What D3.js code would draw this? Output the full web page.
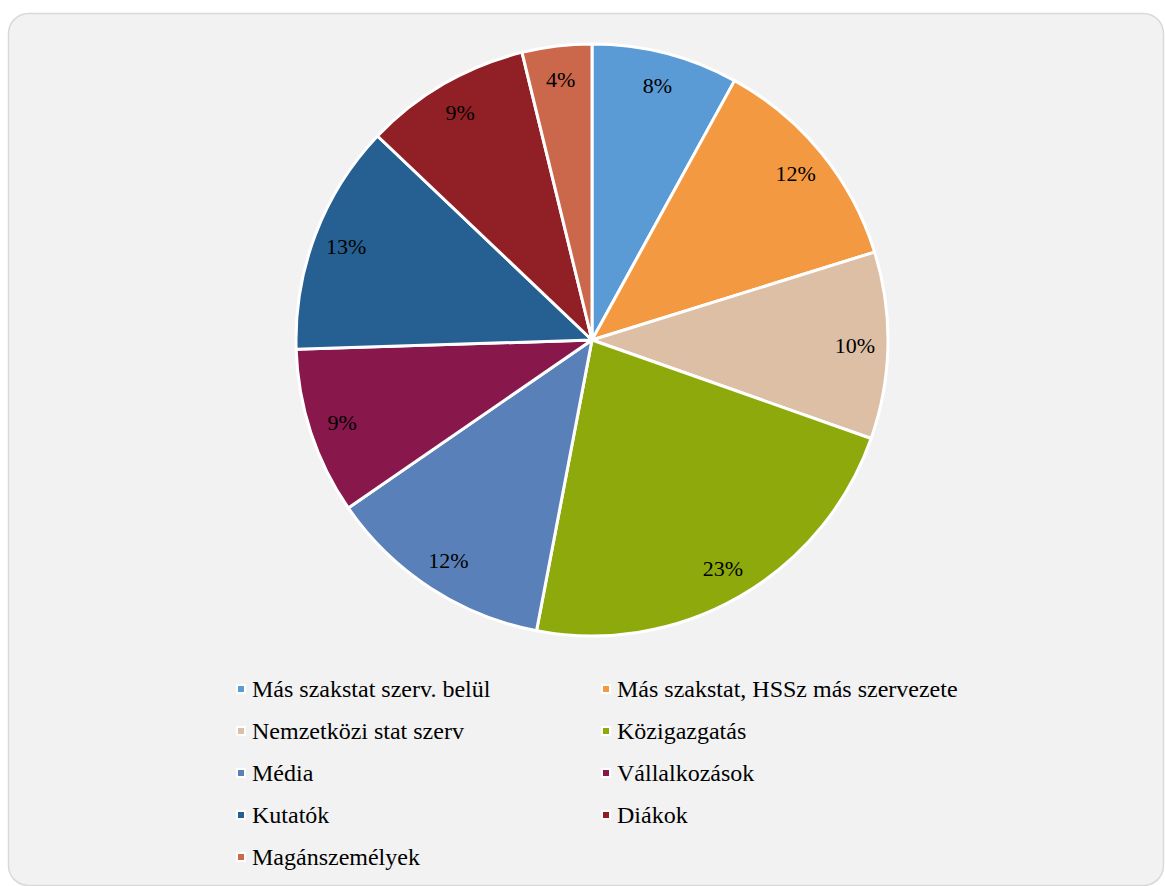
<!DOCTYPE html>
<html>
<head>
<meta charset="utf-8">
<script src="https://cdn.jsdelivr.net/npm/d3@7"></script>
<style>
  body { margin: 0; background: #fff; }
  svg { display: block; }
</style>
</head>
<body>
<svg id="chart" width="1165" height="886"></svg>
<script>
// categories and their shares
var categories = ['Más szakstat szerv. belül', 'Más szakstat, HSSz más szervezete',
  'Nemzetközi stat szerv', 'Közigazgatás', 'Média', 'Vállalkozások',
  'Kutatók', 'Diákok', 'Magánszemélyek'];
var shares = [8.0, 12.2, 10.2, 22.6, 12.4, 9.1, 12.6, 9.1, 3.8];
var labels = ['8%', '12%', '10%', '23%', '12%', '9%', '13%', '9%', '4%'];
var colors = ['#5b9bd5', '#f39942', '#ddbfa6', '#8ea90c', '#5a80b9', '#88174b',
  '#266092', '#912026', '#cb674b'];

var svg = d3.select('#chart');

svg.append('rect')
  .attr('x', 8.5).attr('y', 13.5)
  .attr('width', 1155).attr('height', 872)
  .attr('rx', 20).attr('ry', 20)
  .attr('fill', '#f2f2f2')
  .attr('stroke', '#d9d9d9')
  .attr('stroke-width', 1.5);

var cx = 592, cy = 340, r = 296;
var data = categories.map(function(c, i) { return {name: c, value: shares[i], label: labels[i], color: colors[i]}; });

var pie = d3.pie().sort(null).value(function(d) { return d.value; });
var arc = d3.arc().innerRadius(0).outerRadius(r);
var labelArc = d3.arc().innerRadius(263).outerRadius(263);

var g = svg.append('g').attr('transform', 'translate(' + cx + ',' + cy + ')');
var arcs = pie(data);

g.selectAll('path')
  .data(arcs)
  .enter()
  .append('path')
  .attr('d', arc)
  .attr('fill', function(d) { return d.data.color; })
  .attr('stroke', '#fff')
  .attr('stroke-width', 3)
  .attr('stroke-linejoin', 'round');

g.selectAll('text')
  .data(arcs)
  .enter()
  .append('text')
  .attr('transform', function(d) { return 'translate(' + labelArc.centroid(d) + ')'; })
  .attr('text-anchor', 'middle')
  .attr('dy', '0.35em')
  .style('font-family', '"Liberation Serif", "Times New Roman", serif')
  .style('font-size', '22px')
  .attr('fill', '#000')
  .text(function(d) { return d.data.label; });

// legend, two columns
var colX = [241, 606];
var rowY0 = 689, rowStep = 42;
var leg = svg.append('g')
  .selectAll('g')
  .data(data)
  .enter()
  .append('g')
  .attr('transform', function(d, i) {
    return 'translate(' + colX[i % 2] + ',' + (rowY0 + Math.floor(i / 2) * rowStep) + ')';
  });

leg.append('rect')
  .attr('x', -4).attr('y', -4)
  .attr('width', 8).attr('height', 8)
  .attr('fill', function(d) { return d.color; })
  .attr('stroke', '#fff')
  .attr('stroke-width', 2);

leg.append('text')
  .attr('x', 11)
  .attr('dy', '0.35em')
  .style('font-family', '"Liberation Serif", "Times New Roman", serif')
  .style('font-size', '24px')
  .attr('fill', '#000')
  .text(function(d) { return d.name; });
</script>
</body>
</html>
